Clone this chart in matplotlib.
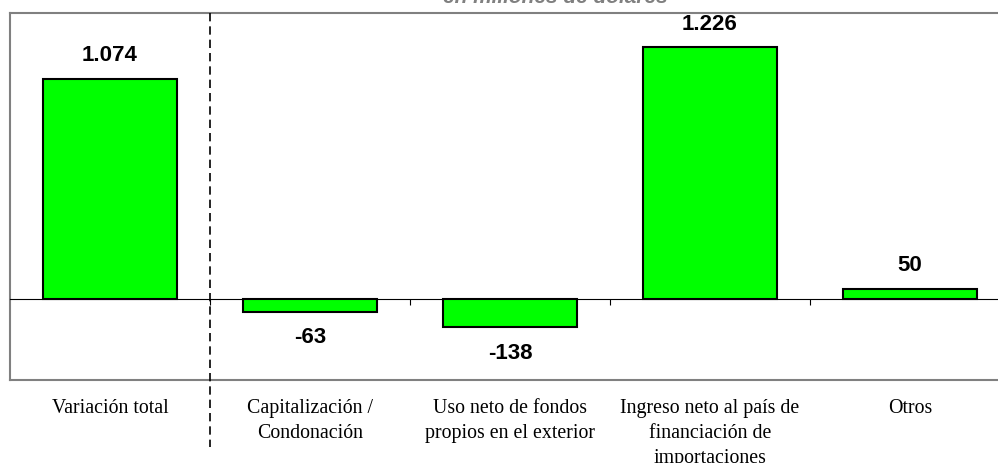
import matplotlib
matplotlib.use("Agg")
import matplotlib.pyplot as plt
import matplotlib.transforms as mtransforms
from matplotlib.ticker import FixedLocator, NullFormatter

categories = ["Variación total", "Capitalización /\nCondonación",
              "Uso neto de fondos\npropios en el exterior",
              "Ingreso neto al país de\nfinanciación de\nimportaciones", "Otros"]
values = [1074, -63, -138, 1226, 50]
value_labels = ["1.074", "-63", "-138", "1.226", "50"]
subtitle = "en millones de dólares"

W, H = 998, 464
fig = plt.figure(figsize=(W / 100, H / 100), dpi=100)
ax = fig.add_axes([10 / W, 83 / H, 1000 / W, 367 / H])

x = list(range(len(values)))
ax.bar(x, values, width=0.67, color="#00ff00", edgecolor="black", linewidth=1.5, zorder=3)
ax.set_xlim(-0.5, len(values) - 0.5)
ax.set_ylim(-395, 1394)

# frame
for s in ["left", "top", "right"]:
    ax.spines[s].set_color("#808080")
    ax.spines[s].set_linewidth(1.5)
ax.spines["bottom"].set_position(("data", 0))
ax.spines["bottom"].set_color("black")
ax.spines["bottom"].set_linewidth(0.8)
ax.plot([0, 1], [0, 0], transform=ax.transAxes, color="#808080", lw=1.5, clip_on=False)

ax.set_yticks([])
ax.xaxis.set_major_locator(FixedLocator([]))
ax.xaxis.set_minor_locator(FixedLocator([i + 0.5 for i in range(len(values) - 1)]))
ax.xaxis.set_minor_formatter(NullFormatter())
ax.tick_params(axis="x", which="minor", direction="out", length=4, width=0.8, color="black")

# value labels
for xi, v, lab in zip(x, values, value_labels):
    off = 17.5 if v >= 0 else -18
    ax.annotate(lab, (xi, v), xytext=(0, off), textcoords="offset points",
                ha="center", va="center", fontsize=16, fontweight="bold",
                family="Liberation Sans", zorder=4)

# category labels
trans = mtransforms.blended_transform_factory(ax.transData, ax.transAxes)
for xi, c in zip(x, categories):
    ax.text(xi, -0.05, c, transform=trans, ha="center", va="top",
            fontsize=14.3, family="Liberation Serif", linespacing=1.4)

# dashed separator
ax.plot([0.5, 0.5], [1.0, -0.183], transform=trans, color="black", lw=1.2,
        linestyle=(0, (5, 3)), clip_on=False, zorder=5)

fig.text(555 / W, 1 - 3 / H, subtitle, ha="center", va="baseline", fontsize=15,
         fontstyle="italic", fontweight="bold", color="#808080", family="Liberation Sans")

fig.savefig("out.png", dpi=100)
